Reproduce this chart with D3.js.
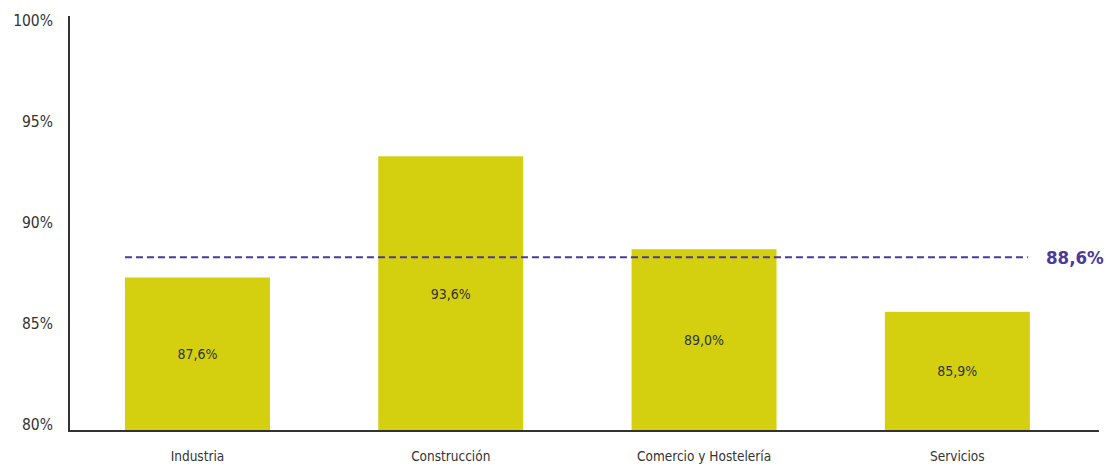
<!DOCTYPE html>
<html><head><meta charset="utf-8">
<script src="https://cdn.jsdelivr.net/npm/d3@7"></script>
<style>
body{margin:0;background:#fff;}
svg text{font-family:"Liberation Sans Narrow","Arial Narrow","DejaVu Sans Condensed",sans-serif;}
</style></head>
<body><svg id="c" width="1107" height="467"></svg>
<script>
const categories = ["Industria","Construcción","Comercio y Hostelería","Servicios"];
const values = [87.6, 93.6, 89.0, 85.9];
const valueLabels = ["87,6%","93,6%","89,0%","85,9%"];
const average = 88.6;
const averageLabel = "88,6%";
const yTicks = [80, 85, 90, 95, 100];
const yTickLabels = ["80%","85%","90%","95%","100%"];

const FONT = '"Liberation Sans Narrow","Arial Narrow","DejaVu Sans Condensed",sans-serif';
const svg = d3.select("#c");
const y = d3.scaleLinear().domain([80,100]).range([431,27]);
const x = d3.scaleBand().domain(categories).range([70.8,1084]).paddingInner(0.4276).paddingOuter(0.2138);

// bars
svg.selectAll("rect.bar").data(values).join("rect")
  .attr("x",(d,i)=>x(categories[i])).attr("width",x.bandwidth())
  .attr("y",d=>y(d)).attr("height",d=>y(80)-y(d))
  .attr("fill","#d4d010");

// bar value labels
svg.selectAll("text.vl").data(values).join("text")
  .attr("x",(d,i)=>x(categories[i])+x.bandwidth()/2)
  .attr("y",d=>(y(d)+y(80))/2).attr("dy","0.35em")
  .attr("text-anchor","middle").attr("font-size",14).attr("fill","#333")
  .text((d,i)=>valueLabels[i]);

// average line
svg.append("line")
  .attr("x1",x(categories[0])).attr("x2",x(categories[3])+x.bandwidth()-2)
  .attr("y1",y(average)).attr("y2",y(average))
  .attr("stroke","#4b3a9b").attr("stroke-width",2).attr("stroke-dasharray","7,4");
svg.append("text").attr("x",1046).attr("y",y(average)).attr("dy","0.35em")
  .attr("font-size",18.5).attr("font-weight","bold").attr("fill","#4b3a9b").text(averageLabel);

// y axis
const yAxis = d3.axisLeft(y).tickValues(yTicks).tickSize(0).tickPadding(16)
  .tickFormat((d,i)=>yTickLabels[i]);
const gy = svg.append("g").attr("transform","translate(69,0)").call(yAxis);
gy.select(".domain").remove();
gy.selectAll("text").attr("font-size",15.5).attr("fill","#333").attr("dy","-0.12em")
  .style("font-family",FONT);
svg.append("line").attr("x1",69).attr("x2",69).attr("y1",16).attr("y2",432)
  .attr("stroke","#333").attr("stroke-width",2);

// x axis
const xAxis = d3.axisBottom(x).tickSize(0).tickPadding(20);
const gx = svg.append("g").attr("transform","translate(0,431)").call(xAxis);
gx.select(".domain").remove();
gx.selectAll("text").attr("font-size",13.5).attr("fill","#333")
  .style("font-family",FONT);
svg.append("line").attr("x1",68).attr("x2",1099).attr("y1",431).attr("y2",431)
  .attr("stroke","#333").attr("stroke-width",2);
</script></body></html>
